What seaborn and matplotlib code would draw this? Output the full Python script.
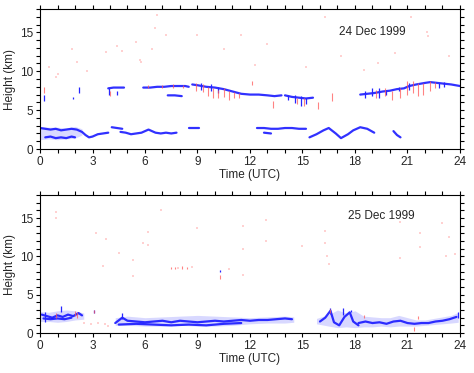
import matplotlib
matplotlib.use("Agg")
import matplotlib.pyplot as plt
import numpy as np
import seaborn as sns

# ---------------- 24 Dec 1999 ----------------
# diffuse low cloud region (light fill)
dec24_band_seg = [0, 0, 0, 0, 0, 0]
dec24_band_t = [0.0, 0.5, 1.0, 1.5, 2.0, 2.4]
dec24_band_lo = [1.2, 1.3, 1.2, 1.3, 1.4, 1.8]
dec24_band_hi = [2.9, 2.8, 2.8, 2.7, 2.9, 2.6]

# cloud layers: segment id, time (UTC h), height (km)
dec24_layer_seg = ([0] * 15 + [1] * 7 + [2] * 3 + [3] * 13 + [4] * 3 + [5] * 8 + [6] * 2
                   + [7] * 11 + [8] * 3 + [9] * 4 + [10] * 8 + [11] * 12 + [12] * 3
                   + [13] * 5 + [14] * 15)
dec24_layer_t = [0.0, 0.3, 0.6, 0.9, 1.2, 1.5, 1.8, 2.1, 2.4, 2.6, 2.8, 3.0, 3.3, 3.6, 3.9,
                 0.3, 0.6, 0.9, 1.2, 1.5, 1.8, 2.0,
                 4.1, 4.4, 4.7,
                 4.6, 4.9, 5.2, 5.5, 5.8, 6.0, 6.2, 6.4, 6.6, 6.9, 7.2, 7.5, 7.8,
                 8.5, 8.8, 9.1,
                 12.4, 12.8, 13.2, 13.6, 14.0, 14.4, 14.8, 15.2,
                 12.8, 13.2,
                 15.4, 15.8, 16.2, 16.5, 16.9, 17.2, 17.6, 17.9, 18.3, 18.7, 19.1,
                 20.2, 20.4, 20.6,
                 3.9, 4.2, 4.5, 4.8,
                 5.9, 6.3, 6.7, 7.1, 7.5, 7.9, 8.3, 8.5,
                 8.7, 9.0, 9.5, 10.0, 10.5, 11.0, 11.5, 12.0, 12.5, 13.0, 13.4, 13.8,
                 7.3, 7.7, 8.1,
                 14.0, 14.4, 14.8, 15.2, 15.6,
                 18.3, 18.7, 19.1, 19.6, 20.0, 20.4, 20.8, 21.1, 21.5, 22.0, 22.3, 22.7, 23.1, 23.5, 24.0]
dec24_layer_h = [2.7, 2.6, 2.5, 2.6, 2.4, 2.5, 2.6, 2.5, 2.2, 1.8, 1.5, 1.6, 1.9, 2.0, 2.1,
                 1.5, 1.6, 1.4, 1.5, 1.4, 1.6, 1.5,
                 2.8, 2.7, 2.6,
                 2.2, 2.1, 1.9, 2.0, 2.1, 2.3, 2.5, 2.3, 2.1, 2.0, 2.1, 2.0, 2.1,
                 2.7, 2.7, 2.7,
                 2.7, 2.7, 2.6, 2.6, 2.7, 2.7, 2.6, 2.6,
                 2.1, 2.0,
                 1.5, 1.9, 2.4, 2.7, 2.0, 1.4, 1.9, 2.4, 2.8, 2.6, 2.1,
                 2.3, 1.8, 1.5,
                 7.8, 7.9, 7.9, 7.9,
                 7.9, 7.9, 8.0, 8.0, 8.1, 8.1, 8.1, 8.0,
                 8.3, 8.2, 8.0, 7.9, 7.7, 7.4, 7.1, 7.0, 7.0, 6.9, 6.8, 6.9,
                 6.9, 6.9, 6.8,
                 6.9, 6.7, 6.6, 6.5, 6.6,
                 7.0, 7.1, 7.2, 7.4, 7.5, 7.7, 7.8, 8.1, 8.3, 8.5, 8.6, 8.5, 8.4, 8.3, 8.1]

# vertical streaks (time, bottom, top)
dec24_blue_t = [0.2, 2.2, 1.9, 3.95, 4.4, 9.2, 9.8, 10.2, 14.2, 14.6, 14.9, 15.2,
                18.6, 19.0, 19.4, 19.8, 20.5, 21.1, 22.8, 23.1]
dec24_blue_lo = [6.2, 7.2, 6.4, 7.0, 7.0, 7.6, 7.4, 7.2, 6.3, 5.9, 5.5, 5.8,
                 6.6, 6.8, 6.6, 7.0, 7.4, 7.6, 7.9, 8.0]
dec24_blue_hi = [7.0, 8.0, 6.7, 7.8, 7.4, 8.5, 8.3, 8.0, 7.0, 7.0, 6.8, 6.6,
                 7.5, 7.8, 7.9, 7.6, 8.0, 8.5, 8.5, 8.6]
dec24_red_t = [0.2, 4.0, 6.2, 7.0, 7.6, 8.2, 8.9, 9.3, 9.6, 9.9, 10.2, 10.5, 10.8, 11.1, 11.4,
               12.1, 13.3, 14.7, 15.1, 15.9, 16.7, 19.2, 19.7, 20.1, 20.6, 21.0, 21.3,
               21.6, 21.9, 22.3, 22.6]
dec24_red_lo = [7.2, 6.8, 7.8, 7.8, 7.9, 7.8, 7.5, 7.3, 6.8, 6.6, 6.5, 6.7, 6.3, 6.5, 6.6,
                8.2, 5.3, 5.8, 5.5, 5.2, 6.2, 6.5, 6.8, 6.3, 6.6, 7.0, 7.2,
                6.8, 7.0, 7.5, 7.8]
dec24_red_hi = [8.0, 7.5, 8.2, 8.2, 8.3, 8.2, 8.5, 8.3, 8.0, 7.8, 7.6, 7.8, 7.5, 7.3, 7.2,
                8.7, 6.2, 6.6, 6.5, 6.1, 7.2, 7.6, 7.8, 7.5, 7.8, 8.8, 8.7,
                8.5, 8.5, 8.8, 8.6]

# faint isolated returns
dec24_dot_t = [0.9, 1.0, 0.5, 1.8, 2.1, 2.7, 3.8, 4.4, 4.7, 5.5, 5.7, 5.8, 6.4, 6.7, 6.6,
               7.2, 9.0, 10.5, 11.5, 12.3, 13.0, 15.2, 16.3, 17.2, 18.5, 19.3, 20.3,
               21.2, 22.1, 22.2, 23.4, 23.1]
dec24_dot_h = [9.3, 9.6, 10.5, 12.9, 11.2, 10.0, 12.5, 13.2, 12.6, 13.7, 11.5, 11.2, 12.9,
               17.2, 15.5, 14.6, 14.6, 12.8, 14.6, 10.8, 13.5, 10.5, 17.0, 12.0, 10.2,
               11.0, 12.3, 17.0, 15.0, 14.5, 12.0, 8.4]

# ---------------- 25 Dec 1999 ----------------
dec25_band_seg = [0] * 6 + [1] * 12 + [2] * 17
dec25_band_t = [0.0, 0.5, 1.0, 1.5, 2.0, 2.5,
                4.3, 5.0, 6.0, 7.0, 8.0, 9.0, 10.0, 11.0, 12.0, 13.0, 14.0, 14.5,
                15.8, 16.5, 17.0, 17.5, 18.0, 18.5, 19.0, 19.5, 20.0, 20.5, 21.0,
                21.5, 22.0, 22.5, 23.0, 23.5, 23.9]
dec25_band_lo = [1.5, 1.5, 1.4, 1.5, 1.7, 1.8,
                 1.0, 1.0, 0.9, 0.9, 1.0, 0.9, 0.9, 1.0, 1.2, 1.3, 1.3, 1.4,
                 1.2, 0.9, 0.7, 0.8, 0.7, 0.8, 0.8, 0.9, 0.8, 0.9, 0.9,
                 0.9, 1.0, 1.1, 1.2, 1.3, 1.4]
dec25_band_hi = [2.8, 2.7, 2.9, 3.0, 2.9, 2.6,
                 2.0, 2.2, 2.0, 2.1, 2.2, 2.3, 2.2, 2.1, 2.0, 2.1, 2.2, 2.1,
                 1.9, 2.4, 3.0, 2.6, 2.9, 2.2, 2.1, 2.0, 2.0, 2.3, 2.0,
                 1.7, 1.7, 1.9, 2.1, 2.3, 2.7]

dec25_layer_seg = [0] * 9 + [1] * 5 + [2] * 22 + [3] * 8 + [4] * 9 + [5] * 15
dec25_layer_t = [0.1, 0.4, 0.7, 1.0, 1.3, 1.6, 1.9, 2.2, 2.4,
                 0.2, 0.6, 1.0, 1.4, 1.8,
                 4.3, 4.7, 5.0, 5.5, 6.0, 6.5, 7.0, 7.5, 8.0, 8.5, 9.0, 9.5, 10.0,
                 10.5, 11.0, 11.5, 12.0, 12.5, 13.0, 13.5, 14.0, 14.4,
                 4.5, 5.5, 6.5, 7.5, 8.5, 9.5, 10.5, 11.5,
                 16.0, 16.3, 16.6, 16.8, 17.1, 17.4, 17.7, 17.9, 18.2,
                 18.2, 18.6, 19.0, 19.4, 19.8, 20.2, 20.6, 21.0, 21.4, 21.8, 22.2,
                 22.6, 23.0, 23.4, 23.8]
dec25_layer_h = [2.4, 2.2, 2.0, 2.3, 2.1, 2.4, 2.2, 2.6, 2.3,
                 1.9, 1.8, 1.9, 1.8, 2.0,
                 1.3, 2.0, 1.6, 1.5, 1.4, 1.5, 1.6, 1.4, 1.6, 1.5, 1.4, 1.5, 1.6,
                 1.5, 1.6, 1.7, 1.6, 1.7, 1.7, 1.8, 1.9, 1.8,
                 1.1, 1.2, 1.1, 1.0, 1.1, 1.0, 1.2, 1.3,
                 1.5, 2.0, 2.9, 1.4, 1.0, 2.1, 2.7, 1.5, 1.0,
                 1.3, 1.5, 1.3, 1.4, 1.2, 1.5, 1.6, 1.3, 1.2, 1.3, 1.3,
                 1.5, 1.6, 1.8, 2.1]

dec25_blue_t = [0.3, 1.2, 4.7, 16.6, 17.3, 17.8, 23.9, 10.3, 3.1]
dec25_blue_lo = [1.5, 2.8, 1.8, 2.5, 2.4, 2.7, 1.9, 8.0, 2.6]
dec25_blue_hi = [2.8, 3.5, 2.6, 3.3, 3.2, 3.0, 2.7, 8.2, 3.0]
dec25_red_t = [0.9, 2.0, 2.1, 3.1, 7.5, 7.7, 8.1, 8.4, 10.3, 16.6, 18.5, 21.4, 21.6]
dec25_red_lo = [2.0, 2.2, 2.0, 2.6, 8.4, 8.4, 8.3, 8.4, 7.0, 2.6, 2.0, 0.2, 1.8]
dec25_red_hi = [2.6, 2.9, 2.8, 3.0, 8.6, 8.6, 8.7, 8.6, 7.6, 3.1, 2.4, 0.8, 2.2]

dec25_dot_t = [0.9, 0.9, 6.9, 3.8, 5.3, 5.3, 4.5, 5.9, 6.2, 6.2, 3.2, 3.6, 0.0, 0.0, 9.0,
               11.6, 11.6, 11.6, 12.9, 12.9, 16.3, 16.3, 16.4, 15.0, 16.5, 20.6, 20.6,
               21.7, 21.7, 23.0, 23.4, 23.7, 23.2, 7.9, 8.7, 10.8, 2.5, 2.9, 3.3, 3.7, 3.9]
dec25_dot_h = [15.8, 15.0, 16.0, 12.3, 9.5, 7.5, 10.5, 11.8, 11.5, 13.2, 13.0, 8.8, 8.3,
               9.8, 13.7, 14.0, 11.0, 7.6, 14.8, 12.0, 13.3, 11.8, 10.0, 11.3, 9.0, 14.5,
               9.8, 13.0, 11.2, 14.3, 12.5, 10.3, 10.0, 8.5, 8.6, 8.3, 1.3, 1.2, 1.3, 1.2, 0.9]

time_ticks = [0, 3, 6, 9, 12, 15, 18, 21, 24]
height_ticks = [0, 5, 10, 15]

sns.set_style("ticks")
plt.rcParams['font.family'] = ['Liberation Sans', 'DejaVu Sans']
plt.rcParams['font.size'] = 8.5

fig = plt.figure(figsize=(4.74, 3.73), dpi=100)
ax_top = fig.add_axes([0.0844, 0.6005, 0.886, 0.3753])
ax_bot = fig.add_axes([0.0844, 0.1072, 0.886, 0.3700])


def draw_panel(ax, band_seg, band_t, band_lo, band_hi, seg, t, h,
               bt, blo, bhi, rt, rlo, rhi, dt, dh, label, lx, ly):
    band_seg = np.asarray(band_seg)
    for s in np.unique(band_seg):
        m = band_seg == s
        ax.fill_between(np.asarray(band_t)[m], np.asarray(band_lo)[m], np.asarray(band_hi)[m],
                        color=(0.75, 0.75, 1.0), alpha=0.6, lw=0)
    sns.lineplot(x=t, y=h, units=seg, estimator=None, sort=False, color=(0.05, 0.05, 1.0),
                 lw=1.6, ax=ax, legend=False, alpha=0.85)
    ax.vlines(bt, blo, bhi, color=(0.15, 0.15, 1.0), lw=0.9)
    ax.vlines(rt, rlo, rhi, color=(1.0, 0.35, 0.35), lw=0.8, alpha=0.75)
    sns.scatterplot(x=dt, y=dh, marker='s', s=2, color=(1.0, 0.82, 0.82), linewidth=0, ax=ax)
    ax.text(lx, ly, label, fontsize=8.5, va='center', ha='left')
    ax.set_xlim(0, 24)
    ax.set_ylim(0, 18)
    ax.set_xticks(time_ticks)
    ax.set_xticks(range(25), minor=True)
    ax.set_yticks(height_ticks)
    ax.set_yticks(range(19), minor=True)
    ax.tick_params(which='both', direction='out', top=True, right=True,
                   length=3, width=0.8, color='black', labelsize=8.5, pad=2)
    for sp in ax.spines.values():
        sp.set_visible(True)
        sp.set_color('black')
        sp.set_linewidth(0.8)
    ax.set_xlabel("Time (UTC)", fontsize=8.5, labelpad=1)
    ax.set_ylabel("Height (km)", fontsize=8.5, labelpad=3)


draw_panel(ax_top, dec24_band_seg, dec24_band_t, dec24_band_lo, dec24_band_hi,
           dec24_layer_seg, dec24_layer_t, dec24_layer_h,
           dec24_blue_t, dec24_blue_lo, dec24_blue_hi,
           dec24_red_t, dec24_red_lo, dec24_red_hi,
           dec24_dot_t, dec24_dot_h, "24 Dec 1999", 17.1, 15.0)
draw_panel(ax_bot, dec25_band_seg, dec25_band_t, dec25_band_lo, dec25_band_hi,
           dec25_layer_seg, dec25_layer_t, dec25_layer_h,
           dec25_blue_t, dec25_blue_lo, dec25_blue_hi,
           dec25_red_t, dec25_red_lo, dec25_red_hi,
           dec25_dot_t, dec25_dot_h, "25 Dec 1999", 17.6, 15.3)

fig.savefig("out.png", dpi=100)
